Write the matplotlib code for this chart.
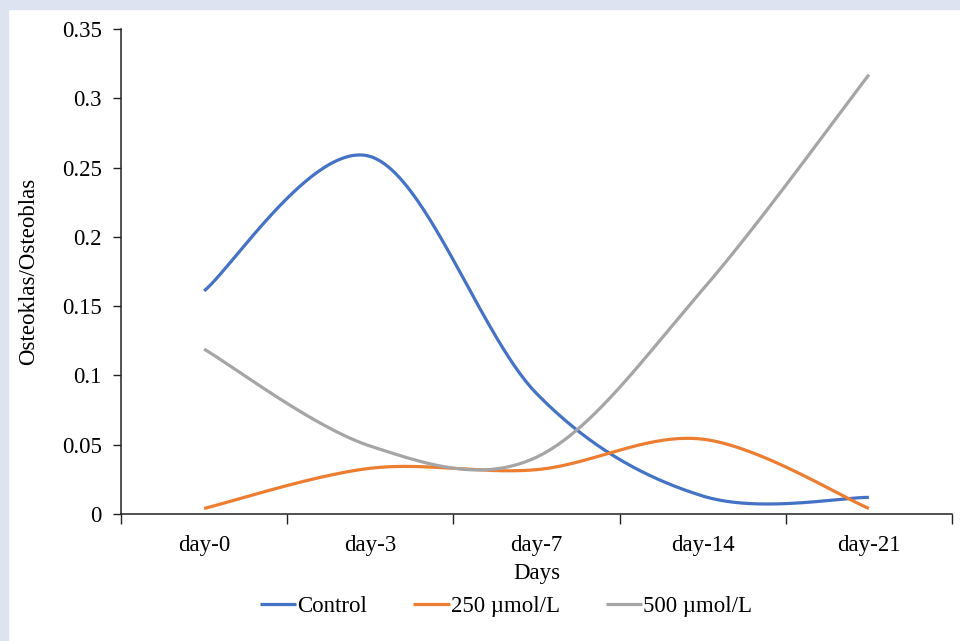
import numpy as np
import matplotlib
matplotlib.use("Agg")
import matplotlib.pyplot as plt

categories = ["day-0", "day-3", "day-7", "day-14", "day-21"]
control = [0.161, 0.258, 0.087, 0.013, 0.012]
umol250 = [0.004, 0.033, 0.032, 0.054, 0.004]
umol500 = [0.119, 0.049, 0.041, 0.162, 0.317]
series_names = ["Control", "250 µmol/L", "500 µmol/L"]
colors = ["#4472C4", "#ED7D31", "#A5A5A5"]
yticks = [0, 0.05, 0.1, 0.15, 0.2, 0.25, 0.3, 0.35]
ytick_labels = ["0", "0.05", "0.1", "0.15", "0.2", "0.25", "0.3", "0.35"]


def smooth(xs, ys, n=60):
    P = np.column_stack([xs, ys]).astype(float)
    Pe = np.vstack([P[0], P, P[-1]])
    out = []
    for i in range(len(P) - 1):
        p0, p3 = P[i], P[i + 1]
        c1 = p0 + (Pe[i + 2] - Pe[i]) / 6.0
        c2 = p3 - (Pe[i + 3] - Pe[i + 1]) / 6.0
        t = np.linspace(0, 1, n)[:, None]
        seg = ((1 - t) ** 3) * p0 + 3 * ((1 - t) ** 2) * t * c1 + 3 * (1 - t) * t ** 2 * c2 + t ** 3 * p3
        out.append(seg if i == 0 else seg[1:])
    s = np.vstack(out)
    return s[:, 0], s[:, 1]


FS = 16.5
plt.rcParams["font.family"] = ["Liberation Serif", "DejaVu Serif"]
fig = plt.figure(figsize=(9.6, 6.41), dpi=100)
fig.patch.set_facecolor("white")
# lavender frame on top and left
fig.patches.append(plt.Rectangle((0, 1 - 9 / 641), 1, 9 / 641, transform=fig.transFigure,
                                 color="#dde3f0", zorder=0))
fig.patches.append(plt.Rectangle((0, 0), 8 / 960, 1, transform=fig.transFigure,
                                 color="#dde3f0", zorder=0))

ax = fig.add_axes([121 / 960, 1 - 514 / 641, (952 - 121) / 960, (514 - 29) / 641])
x = np.arange(len(categories))
for vals, name, c in zip([control, umol250, umol500], series_names, colors):
    sx, sy = smooth(x, vals)
    ax.plot(sx, sy, color=c, lw=2.3, label=name, solid_capstyle="butt")

ax.set_xlim(-0.5, len(categories) - 0.5)
ax.set_ylim(0, 0.35)
ax.set_yticks(yticks)
ax.set_yticklabels(ytick_labels)
ax.set_xticks(np.arange(len(categories) + 1) - 0.5)
ax.set_xticklabels([""] * (len(categories) + 1))
ax.set_xticks(x, minor=True)
ax.set_xticklabels(categories, minor=True)
ax.tick_params(axis="x", which="minor", length=0, pad=15, labelsize=FS)
ax.tick_params(axis="x", which="major", length=7, width=1, color="#222222")
ax.tick_params(axis="y", length=6, width=1, labelsize=FS, pad=8, color="#222222")
for s in ["top", "right"]:
    ax.spines[s].set_visible(False)
for s in ["left", "bottom"]:
    ax.spines[s].set_color("#222222")
    ax.spines[s].set_linewidth(1.1)

ax.set_xlabel("Days", fontsize=FS, labelpad=5)
ax.set_ylabel("Osteoklas/Osteoblas", fontsize=FS, labelpad=16)

fig.legend(loc="center", bbox_to_anchor=(506 / 960, 1 - 606 / 641), ncol=3, frameon=False,
           fontsize=FS, handlelength=1.6, handletextpad=0.05, columnspacing=2.0)

fig.savefig("out.png", dpi=100)
